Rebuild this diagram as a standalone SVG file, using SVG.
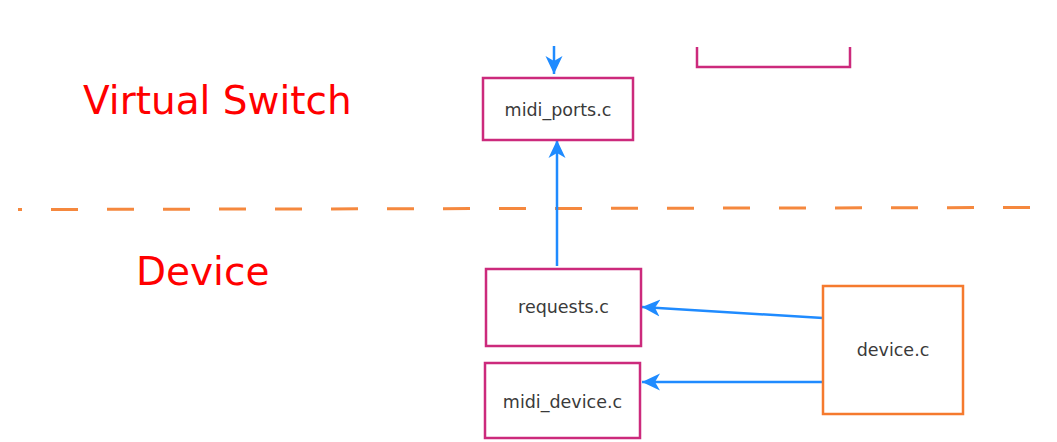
<svg xmlns="http://www.w3.org/2000/svg" width="1057" height="442" viewBox="0 0 1057 442">
  <style>
    .box { fill: #ffffff; stroke: #cc2a7c; stroke-width: 2.5; }
    .dev { fill: #ffffff; stroke: #f57a2e; stroke-width: 2.5; }
    .lbl { font-family: "DejaVu Sans", Verdana, sans-serif; font-size: 17.5px; fill: #3a3a3a; text-anchor: middle; }
    .zone { font-family: "DejaVu Sans", Verdana, sans-serif; font-size: 39px; fill: #ff0000; }
    .conn { stroke: #1f8bff; stroke-width: 2.5; fill: none; marker-end: url(#ah); }
  </style>
  <defs>
    <marker id="ah" markerUnits="userSpaceOnUse" markerWidth="20" markerHeight="20" viewBox="0 0 20 20" refX="18" refY="10" orient="auto">
      <path d="M0,1.5 L18,10 L0,18.5 L5,10 z" fill="#1f8bff"/>
    </marker>
  </defs>
  <rect width="1057" height="442" fill="#ffffff"/>

  <g id="zones">
    <text class="zone" x="83" y="114">Virtual Switch</text>
    <text class="zone" x="136" y="285">Device</text>
    <line x1="18" y1="209.5" x2="1035" y2="207.5" stroke="#f5883e" stroke-width="3" stroke-dasharray="27 29" stroke-dashoffset="23"/>
  </g>

  <g id="connectors">
    <line class="conn" x1="554" y1="46" x2="554" y2="74"/>
    <line class="conn" x1="557" y1="266" x2="557" y2="140"/>
    <line class="conn" x1="823" y1="318" x2="642" y2="307"/>
    <line class="conn" x1="823" y1="382" x2="642" y2="382"/>
  </g>

  <g id="partial-box">
    <path d="M697,47 V67 H850 V47" fill="none" stroke="#cc2a7c" stroke-width="2.5"/>
  </g>

  <g id="midi_ports">
    <rect class="box" x="483" y="78" width="150" height="62"/>
    <text class="lbl" x="558" y="116">midi_ports.c</text>
  </g>

  <g id="requests">
    <rect class="box" x="486" y="269" width="155" height="77"/>
    <text class="lbl" x="563.5" y="313">requests.c</text>
  </g>

  <g id="midi_device">
    <rect class="box" x="485" y="363" width="155" height="75"/>
    <text class="lbl" x="562.5" y="408">midi_device.c</text>
  </g>

  <g id="device">
    <rect class="dev" x="823" y="286" width="140" height="128"/>
    <text class="lbl" x="893" y="356">device.c</text>
  </g>
</svg>
